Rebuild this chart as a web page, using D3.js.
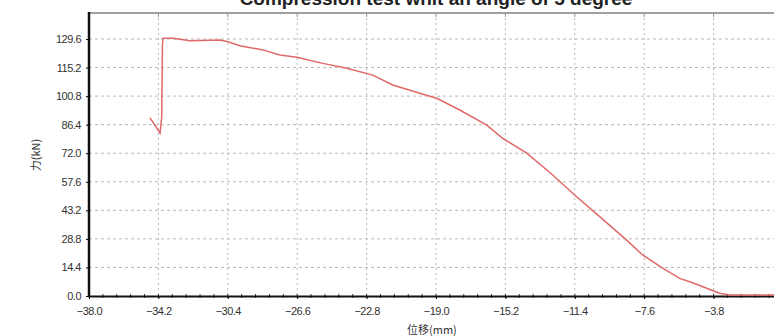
<!DOCTYPE html>
<html>
<head>
<meta charset="utf-8">
<script src="https://cdn.jsdelivr.net/npm/d3@7"></script>
<style>
body { margin: 0; background: #fff; }
svg { display: block; font-family: "Liberation Sans", Arial, sans-serif; }
.tick-label { font-size: 11px; fill: #333; }
</style>
</head>
<body>
<div id="chart"></div>
<script>
// Chart text
var chartTitle = "Compression test whit an angle of 5 degree";
var xTitle = "位移(mm)";
var yTitle = "力(kN)";

// Tick values
var xTicks = [-38.0, -34.2, -30.4, -26.6, -22.8, -19.0, -15.2, -11.4, -7.6, -3.8, 0];
var yTicks = [0.0, 14.4, 28.8, 43.2, 57.6, 72.0, 86.4, 100.8, 115.2, 129.6];

// Displacement (mm) and force (kN)
var displacement = [-34.66, -34.11, -34.02, -33.98, -33.95, -33.40, -32.47, -30.83, -30.39, -29.74,
	-28.48, -27.55, -26.62, -25.20, -23.88, -22.46, -21.37, -19.89, -18.96, -17.70,
	-16.22, -15.35, -14.03, -12.61, -11.41, -10.04, -8.56, -7.69, -6.59, -5.66,
	-4.95, -4.18, -3.47, -2.92, -1.50, 0];
var force = [89.8, 82.2, 90.0, 126.0, 130.0, 130.0, 128.7, 129.1, 128.2, 126.2,
	124.1, 121.5, 120.4, 117.3, 114.8, 111.4, 106.4, 102.2, 99.7, 93.8,
	86.2, 79.5, 72.0, 61.0, 50.9, 40.0, 28.2, 20.7, 14.0, 8.9,
	6.7, 3.9, 1.4, 0.5, 0.5, 0.5];

var W = 774, H = 336;
var margin = {top: 13, left: 89, bottom: 40};

var svg = d3.select("#chart").append("svg")
	.attr("width", W)
	.attr("height", H);

var x = d3.scaleLinear()
	.domain([-38, 0])
	.range([margin.left, 783]);

var y = d3.scaleLinear()
	.domain([0, 129.6])
	.range([296, 39]);

var plotTop = margin.top, plotBottom = y(0);

// grid
svg.append("g").selectAll("line.hgrid")
	.data(yTicks.slice(1))
	.enter().append("line")
	.attr("x1", margin.left).attr("x2", W)
	.attr("y1", function(d) { return y(d); })
	.attr("y2", function(d) { return y(d); })
	.style("stroke", "#b8b8b8")
	.style("stroke-width", 1)
	.style("stroke-dasharray", "3,3");

svg.append("g").selectAll("line.vgrid")
	.data(xTicks.slice(1))
	.enter().append("line")
	.attr("x1", function(d) { return x(d); })
	.attr("x2", function(d) { return x(d); })
	.attr("y1", plotTop).attr("y2", plotBottom)
	.style("stroke", "#b8b8b8")
	.style("stroke-width", 1)
	.style("stroke-dasharray", "2,3");

// top border
svg.append("line")
	.attr("x1", margin.left).attr("x2", W)
	.attr("y1", plotTop).attr("y2", plotTop)
	.style("stroke", "#a0a0a0")
	.style("stroke-width", 2);

svg.append("g").selectAll("line")
	.data(xTicks.slice(1))
	.enter().append("line")
	.attr("x1", function(d) { return x(d); })
	.attr("x2", function(d) { return x(d); })
	.attr("y1", plotTop).attr("y2", plotTop + 4)
	.style("stroke", "#999");

// axes
var xAxis = d3.axisBottom(x)
	.tickValues(xTicks)
	.tickSize(3)
	.tickFormat(function(d) { return d === 0 ? "0" : d3.format(".1f")(d); });

var gx = svg.append("g")
	.attr("transform", "translate(0," + plotBottom + ")")
	.call(xAxis);
gx.select(".domain").remove();
gx.selectAll("text").attr("class", "tick-label").attr("dy", "1.15em")
	.style("font-size", "11px").style("letter-spacing", "-0.5px");

var yAxis = d3.axisLeft(y)
	.tickValues(yTicks)
	.tickSize(3)
	.tickFormat(d3.format(".1f"));

var gy = svg.append("g")
	.attr("transform", "translate(" + margin.left + ",0)")
	.call(yAxis);
gy.select(".domain").remove();
gy.selectAll("text").attr("class", "tick-label").attr("x", -8)
	.style("font-size", "11px").style("letter-spacing", "-0.5px");

// minor ticks on bottom axis
var minor = d3.range(-38, 0.01, 0.76);
svg.append("g").selectAll("line")
	.data(minor)
	.enter().append("line")
	.attr("x1", function(d) { return x(d); })
	.attr("x2", function(d) { return x(d); })
	.attr("y1", plotBottom - 2).attr("y2", plotBottom + 2)
	.style("stroke", "#333");

svg.append("line")
	.attr("x1", margin.left).attr("x2", W)
	.attr("y1", plotBottom + 0.5).attr("y2", plotBottom + 0.5)
	.style("stroke", "#111")
	.style("stroke-width", 2);

svg.append("line")
	.attr("x1", margin.left).attr("x2", margin.left)
	.attr("y1", plotTop - 1).attr("y2", plotBottom + 1)
	.style("stroke", "#111")
	.style("stroke-width", 2.5);

// data line
var pts = displacement.map(function(d, i) { return [d, force[i]]; });
var line = d3.line()
	.x(function(d) { return x(d[0]); })
	.y(function(d) { return y(d[1]); });

svg.append("path")
	.datum(pts)
	.attr("d", line)
	.style("fill", "none")
	.style("stroke", "#e06868")
	.style("stroke-width", 1.5);

// titles
svg.append("text")
	.attr("x", 436)
	.attr("y", 5)
	.style("text-anchor", "middle")
	.style("font-size", "19px")
	.style("font-weight", "bold")
	.style("fill", "#222")
	.text(chartTitle);

svg.append("text")
	.attr("x", 407)
	.attr("y", 334)
	.style("font-size", "11px")
	.style("fill", "#333")
	.style("font-family", "'Noto Sans CJK SC', sans-serif")
	.text(xTitle);

svg.append("text")
	.attr("transform", "translate(40,155) rotate(-90)")
	.style("text-anchor", "middle")
	.style("font-size", "11px")
	.style("fill", "#333")
	.style("font-family", "'Noto Sans CJK SC', sans-serif")
	.text(yTitle);
</script>
</body>
</html>
